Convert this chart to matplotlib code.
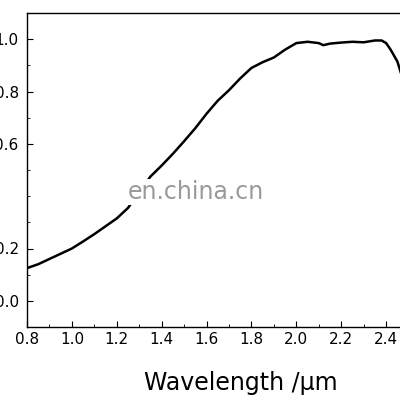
import matplotlib
matplotlib.use("Agg")
import matplotlib.pyplot as plt
from matplotlib.ticker import MultipleLocator

wavelength = [0.8, 0.85, 0.9, 0.95, 1.0, 1.05, 1.1, 1.15, 1.2, 1.25, 1.3, 1.35, 1.4, 1.45, 1.5, 1.55, 1.6, 1.65, 1.7, 1.75, 1.8, 1.85, 1.9, 1.95, 2.0, 2.05, 2.1, 2.12, 2.15, 2.2, 2.25, 2.3, 2.35, 2.38, 2.4, 2.42, 2.45, 2.47, 2.5]
absorb = [0.125, 0.14, 0.16, 0.18, 0.20, 0.227, 0.255, 0.285, 0.315, 0.355, 0.415, 0.475, 0.517, 0.562, 0.61, 0.66, 0.715, 0.765, 0.805, 0.85, 0.89, 0.912, 0.93, 0.96, 0.985, 0.99, 0.985, 0.977, 0.983, 0.987, 0.99, 0.988, 0.995, 0.995, 0.985, 0.96, 0.915, 0.86, 0.78]

fig = plt.figure(figsize=(4, 4), dpi=100)
ax = fig.add_axes([0.0675, 0.1825, 1.01, 0.785])
ax.plot(wavelength, absorb, color="black", lw=1.8)
ax.set_xlim(0.8, 2.6)
ax.set_ylim(-0.1, 1.1)
ax.xaxis.set_major_locator(MultipleLocator(0.2))
ax.xaxis.set_minor_locator(MultipleLocator(0.1))
ax.yaxis.set_major_locator(MultipleLocator(0.2))
ax.yaxis.set_minor_locator(MultipleLocator(0.1))
ax.tick_params(which="both", direction="in", labelsize=11)
ax.tick_params(which="major", length=4)
ax.tick_params(which="minor", length=2.5)
ax.tick_params(axis="y", pad=6)
ax.set_yticks([0.0, 0.2, 0.6, 0.8, 1.0])
ax.set_yticklabels(["0.0", "0.2", "0.6", "0.8", "1.0"])
for s in ax.spines.values():
    s.set_linewidth(1.0)
ax.set_xlabel("Wavelength /μm", fontsize=17)
ax.xaxis.set_label_coords(0.53, -0.14)
fig.text(0.49, 0.52, "en.china.cn", fontsize=17, color="#999999", ha="center", va="center",
         bbox=dict(facecolor="white", edgecolor="none", pad=1))
fig.savefig("out.png", dpi=100)
